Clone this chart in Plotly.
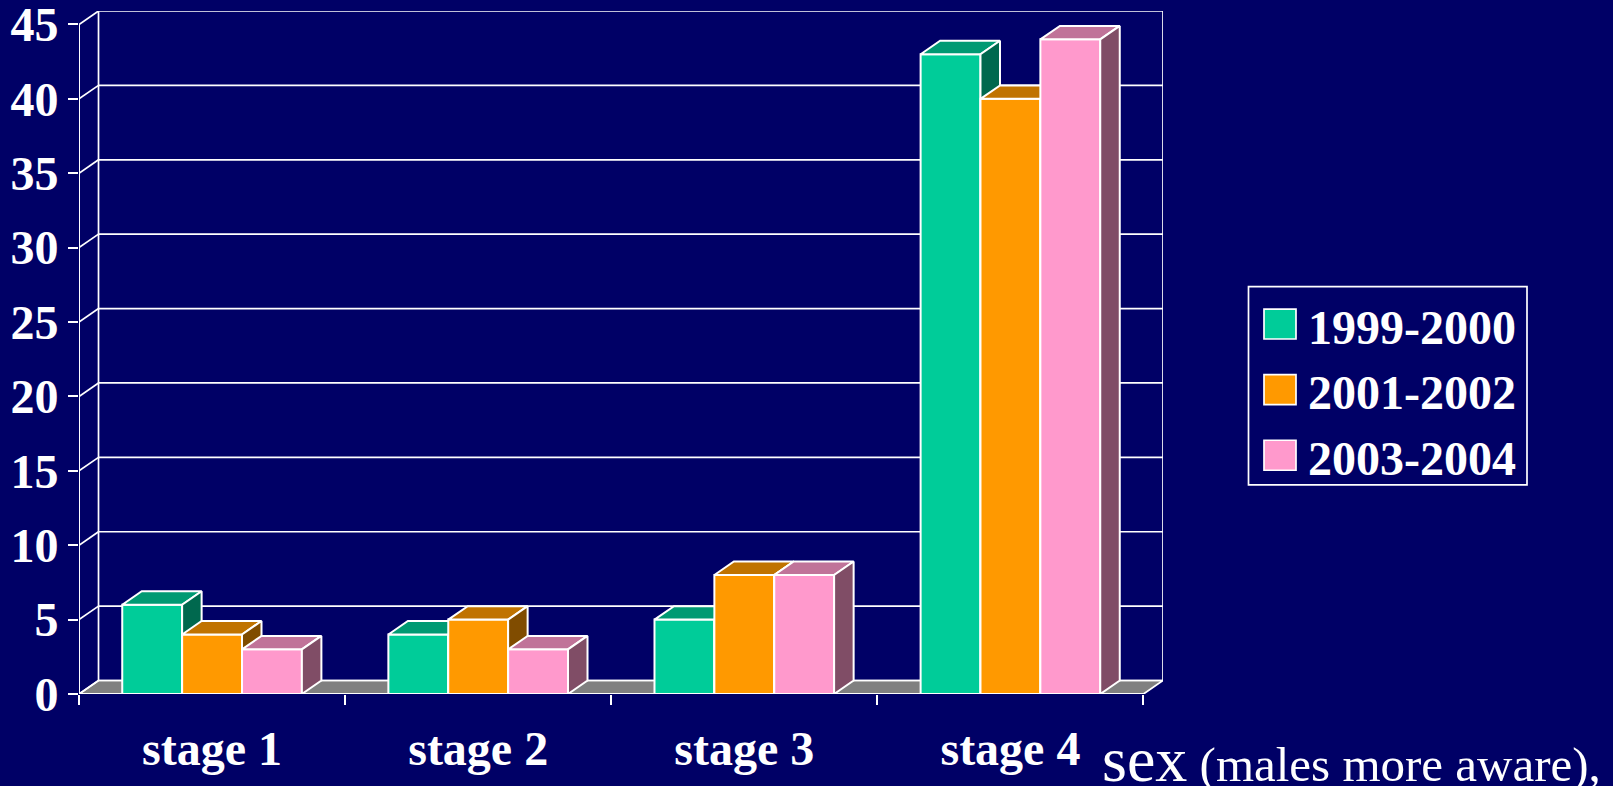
import plotly.graph_objects as go

# ---- data ----
categories = ["stage 1", "stage 2", "stage 3", "stage 4"]
series_names = ["1999-2000", "2001-2002", "2003-2004"]
values_1999_2000 = [6, 4, 5, 43]
values_2001_2002 = [4, 5, 8, 40]
values_2003_2004 = [3, 3, 8, 44]
y_ticks = [0, 5, 10, 15, 20, 25, 30, 35, 40, 45]

series_values = [values_1999_2000, values_2001_2002, values_2003_2004]

# front / top / side face colours per series
front_colors = ["#00CC99", "#FF9900", "#FF99CC"]
top_colors = ["#009A73", "#C07300", "#C07399"]
side_colors = ["#00684E", "#804C00", "#804D66"]

BG = "#000066"
FLOOR = "#808080"
WHITE = "#FFFFFF"
SERIF = "Liberation Serif, Times New Roman, serif"

# ---- figure geometry (pixels) ----
W, H = 1613, 786
LEFT, RIGHT_EDGE = 79, 1163
ZERO_Y = 694.5
PX_PER_CAT = 266.0
PX_PER_UNIT = 14.9
DEPTH_PX_X, DEPTH_PX_Y = 19.5, 13.5

n_cat = len(categories)
y_max = y_ticks[-1]
dx = DEPTH_PX_X / PX_PER_CAT          # depth offset in x data units
dy = DEPTH_PX_Y / PX_PER_UNIT         # depth offset in y data units
x_range = [0, n_cat + dx]
y_range = [0, y_max + dy]
plot_h = (y_max + dy) * PX_PER_UNIT
TOP = ZERO_Y - plot_h
BOTTOM = H - ZERO_Y


def px_to_paper(px, py):
    return (px - LEFT) / (RIGHT_EDGE - LEFT), (ZERO_Y - py) / plot_h


fig = go.Figure()


def poly(xs, ys, fill, width=2):
    fig.add_trace(go.Scatter(
        x=xs + [xs[0]], y=ys + [ys[0]], mode="lines", fill="toself",
        fillcolor=fill, line=dict(color=WHITE, width=width),
        hoverinfo="skip", showlegend=False))


def lines(xs, ys, width=1.7):
    fig.add_trace(go.Scatter(
        x=xs, y=ys, mode="lines", line=dict(color=WHITE, width=width),
        hoverinfo="skip", showlegend=False, connectgaps=False))


# floor
poly([0, n_cat, n_cat + dx, dx], [0, 0, dy, dy], FLOOR, width=1.7)

# back wall gridlines, left wall diagonals and wall edges
gx, gy = [], []
for v in y_ticks:
    gx += [dx, n_cat + dx, None, 0, dx, None]
    gy += [v + dy, v + dy, None, v, v + dy, None]
gx += [dx, dx, None, n_cat + dx, n_cat + dx, None]
gy += [dy, y_max + dy, None, dy, y_max + dy, None]
lines(gx, gy)

# 3-D bars, drawn left to right so nearer faces cover farther ones
bar_w = 0.225
for ci in range(n_cat):
    start = ci + 0.5 - bar_w * len(series_values) / 2
    for si, vals in enumerate(series_values):
        h = vals[ci]
        x0 = start + si * bar_w
        x1 = x0 + bar_w
        poly([x0, x1, x1, x0], [0, 0, h, h], front_colors[si])
        poly([x0, x1, x1 + dx, x0 + dx], [h, h, h + dy, h + dy], top_colors[si])
        poly([x1, x1 + dx, x1 + dx, x1], [0, dy, h + dy, h], side_colors[si])

# front axis lines
lines([0, 0, None, 0, n_cat], [0, y_max, None, 0, 0], width=2)

# ---- legend (drawn) ----
shapes = []
annotations = []
bx0, by0 = px_to_paper(1248.5, 286.5)
bx1, by1 = px_to_paper(1527, 485)
shapes.append(dict(type="rect", xref="paper", yref="paper", x0=bx0, y0=by1,
                   x1=bx1, y1=by0, line=dict(color=WHITE, width=1.7),
                   fillcolor="rgba(0,0,0,0)", layer="above"))
for i, name in enumerate(series_names):
    cy = 324 + i * 65.7
    sx0, sy0 = px_to_paper(1264, cy - 15)
    sx1, sy1 = px_to_paper(1296, cy + 15)
    shapes.append(dict(type="rect", xref="paper", yref="paper", x0=sx0, y0=sy1,
                       x1=sx1, y1=sy0, line=dict(color=WHITE, width=1.7),
                       fillcolor=front_colors[i], layer="above"))
    tx, ty = px_to_paper(1306, cy + 3)
    annotations.append(dict(xref="paper", yref="paper", x=tx, y=ty, text=name,
                            xanchor="left", yanchor="middle", showarrow=False,
                            font=dict(family=SERIF, size=48, color=WHITE,
                                      weight="bold")))

# slide text running into the chart corner
sx, sy = px_to_paper(1100, 798)
annotations.append(dict(
    xref="paper", yref="paper", x=sx, y=sy, xanchor="left", yanchor="bottom",
    showarrow=False,
    text='<span style="font-size:64px">sex</span> (males more aware),',
    font=dict(family=SERIF, size=49, color=WHITE)))

fig.update_layout(
    width=W, height=H,
    margin=dict(l=LEFT, r=W - RIGHT_EDGE, t=TOP, b=BOTTOM, pad=0,
                autoexpand=False),
    paper_bgcolor=BG, plot_bgcolor=BG,
    showlegend=False,
    shapes=shapes, annotations=annotations,
    xaxis=dict(range=x_range, showgrid=False, zeroline=False, showline=False,
               tickmode="array", tickvals=[i + 0.5 for i in range(n_cat)],
               ticktext=categories, ticks="",
               tickfont=dict(family=SERIF, size=48, color=WHITE, weight="bold"),
               minor=dict(tickmode="array", tickvals=list(range(n_cat + 1)),
                          ticks="outside", ticklen=10, tickwidth=2,
                          tickcolor=WHITE, showgrid=False),
               ticklabelstandoff=22, ticklabeloverflow="allow",
               automargin=False, fixedrange=True),
    yaxis=dict(range=y_range, showgrid=False, zeroline=False, showline=False,
               tickmode="array", tickvals=y_ticks, ticks="outside", ticklen=10,
               tickwidth=2, tickcolor=WHITE,
               tickfont=dict(family=SERIF, size=48, color=WHITE, weight="bold"),
               ticklabeloverflow="allow", automargin=False, fixedrange=True),
)

fig.write_html("out.html")
